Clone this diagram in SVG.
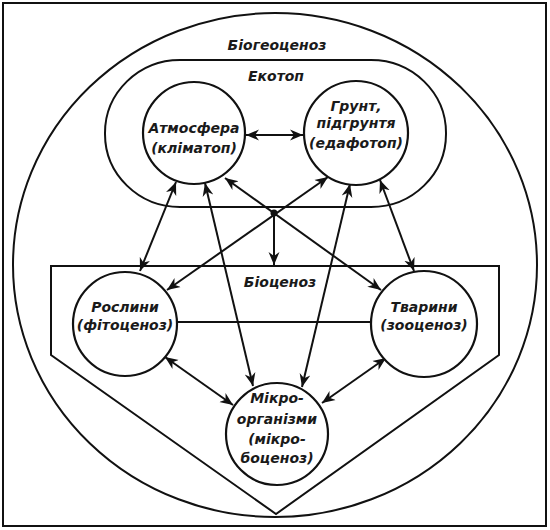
<svg xmlns="http://www.w3.org/2000/svg" width="550" height="530" viewBox="0 0 550 530">
<style>
.s{fill:none;stroke:#111;stroke-width:2}
.n{fill:#fff;stroke:#111;stroke-width:2.2}
.c line{stroke:#111;stroke-width:2}
text{font-family:"DejaVu Sans","Liberation Sans",sans-serif;font-style:oblique;font-weight:bold;font-size:14px;fill:#1a1a1a;text-anchor:middle}
</style>
<defs>
<marker id="a" viewBox="0 0 10 10" refX="10" refY="5" markerWidth="13" markerHeight="13" markerUnits="userSpaceOnUse" orient="auto-start-reverse">
<path d="M0,0.8 L10,5 L0,9.2 L3,5 Z" fill="#111"/>
</marker>
</defs>
<rect x="0" y="0" width="550" height="530" fill="#fff"/>
<rect x="3" y="3" width="543" height="523" class="s"/>
<g id="biogeocenoz">
<ellipse cx="275" cy="265" rx="262" ry="252" class="s"/>
<text x="277" y="50">Біогеоценоз</text>
</g>
<g id="ekotop">
<rect x="105" y="60" width="341" height="147" rx="75" ry="73" class="s"/>
<text x="276" y="81">Екотоп</text>
</g>
<g id="biocenoz">
<path d="M51,266 L499,266 L499,355 L276,514 L51,355 Z" class="s"/>
<text x="280" y="287">Біоценоз</text>
</g>
<g class="c" id="connectors">
<line x1="177" y1="322" x2="371" y2="322"/>
<line x1="246" y1="135" x2="303" y2="135" marker-start="url(#a)" marker-end="url(#a)"/>
<line x1="225" y1="178" x2="381" y2="290" marker-start="url(#a)" marker-end="url(#a)"/>
<line x1="328" y1="177" x2="167" y2="290" marker-start="url(#a)" marker-end="url(#a)"/>
<line x1="274" y1="213" x2="274" y2="265" marker-end="url(#a)"/>
<line x1="176" y1="182" x2="140" y2="271" marker-start="url(#a)" marker-end="url(#a)"/>
<line x1="205" y1="183" x2="253" y2="386" marker-start="url(#a)" marker-end="url(#a)"/>
<line x1="350" y1="184" x2="302" y2="387" marker-start="url(#a)" marker-end="url(#a)"/>
<line x1="380" y1="180" x2="414" y2="271" marker-start="url(#a)" marker-end="url(#a)"/>
<line x1="165" y1="357" x2="233" y2="405" marker-start="url(#a)" marker-end="url(#a)"/>
<line x1="386" y1="358" x2="322" y2="403" marker-start="url(#a)" marker-end="url(#a)"/>
<circle cx="274" cy="213" r="3.5" fill="#111"/>
</g>
<g id="atmosfera">
<circle cx="194" cy="133" r="51" class="n"/>
<text x="194" y="133">Атмосфера</text>
<text x="194" y="153">(кліматоп)</text>
</g>
<g id="grunt">
<circle cx="356" cy="133" r="52" class="n"/>
<text x="356" y="111">Грунт,</text>
<text x="356" y="128">підгрунтя</text>
<text x="356" y="148">(едафотоп)</text>
</g>
<g id="roslyny">
<circle cx="125" cy="324" r="52" class="n"/>
<text x="125" y="312">Рослини</text>
<text x="125" y="330">(фітоценоз)</text>
</g>
<g id="tvaryny">
<circle cx="424" cy="324" r="53" class="n"/>
<text x="424" y="312">Тварини</text>
<text x="424" y="330">(зооценоз)</text>
</g>
<g id="mikro">
<circle cx="277" cy="434" r="51" class="n"/>
<text x="277" y="403">Мікро-</text>
<text x="277" y="424">організми</text>
<text x="277" y="444">(мікро-</text>
<text x="277" y="463">боценоз)</text>
</g>
</svg>
